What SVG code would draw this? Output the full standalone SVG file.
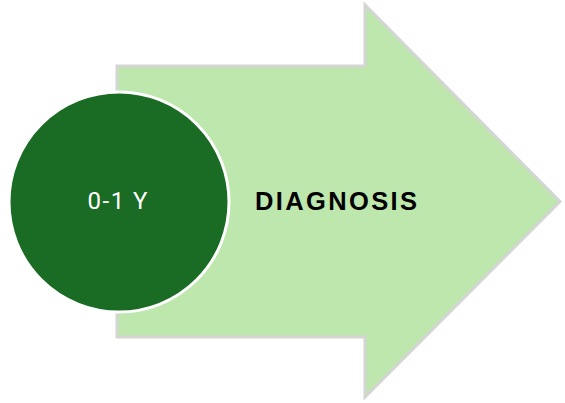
<svg xmlns="http://www.w3.org/2000/svg" width="565" height="403" viewBox="0 0 565 403">
<style>
.arrow{fill:#bde7ad;stroke:#d3d6d2;stroke-width:3;stroke-linejoin:miter}
.circ{fill:#1a6b24;stroke:#ffffff;stroke-width:3}
.lbl{font-family:Roboto,"Liberation Sans",sans-serif;fill:#ffffff;font-size:24px}
.title{font-family:"Liberation Sans",Arial,sans-serif;font-weight:bold;fill:#000000;font-size:25.5px}
</style>
<rect width="565" height="403" fill="#ffffff"/>
<g id="arrow">
<path class="arrow" d="M117,66 L365,66 L365,5 L560,201.5 L365,397 L365,337 L117,337 Z"/>
<text class="title" x="255" y="209.5" textLength="162" lengthAdjust="spacing">DIAGNOSIS</text>
</g>
<g id="circle">
<circle class="circ" cx="119" cy="202" r="110"/>
<text class="lbl" x="87.5" y="209" textLength="60" lengthAdjust="spacing">0-1 Y</text>
</g>
<g id="connectors"/>
</svg>
